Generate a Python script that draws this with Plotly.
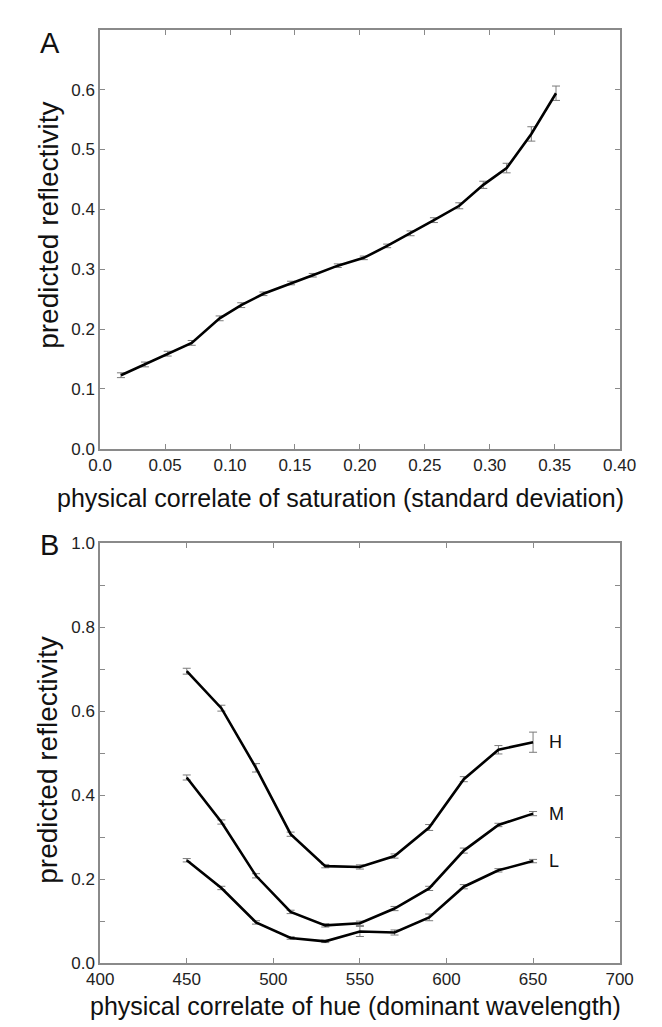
import plotly.graph_objects as go

# Panel A data
sat_x = [0.016, 0.0345, 0.052, 0.0705, 0.092, 0.1086, 0.1257, 0.147, 0.1637, 0.183,
         0.203, 0.221, 0.239, 0.257, 0.2765, 0.295, 0.313, 0.332, 0.351]
sat_y = [0.123, 0.141, 0.159, 0.177, 0.218, 0.240, 0.259, 0.277, 0.290, 0.306,
         0.319, 0.339, 0.360, 0.382, 0.406, 0.441, 0.469, 0.526, 0.594]
sat_err = [0.004, 0.004, 0.004, 0.004, 0.004, 0.004, 0.003, 0.003, 0.003, 0.003,
           0.003, 0.003, 0.004, 0.004, 0.005, 0.006, 0.008, 0.012, 0.012]

# Panel B data
hue_x = [450, 470, 490, 510, 530, 550, 570, 590, 610, 630, 650]
hue_H = [0.695, 0.607, 0.465, 0.307, 0.231, 0.229, 0.255, 0.323, 0.438, 0.508, 0.526]
hue_H_err = [0.007, 0.007, 0.010, 0.005, 0.004, 0.005, 0.005, 0.007, 0.006, 0.010, 0.024]
hue_M = [0.442, 0.336, 0.208, 0.122, 0.090, 0.095, 0.130, 0.178, 0.268, 0.329, 0.356]
hue_M_err = [0.006, 0.005, 0.005, 0.004, 0.004, 0.005, 0.005, 0.005, 0.006, 0.004, 0.005]
hue_L = [0.245, 0.179, 0.097, 0.060, 0.052, 0.0755, 0.073, 0.109, 0.182, 0.221, 0.243]
hue_L_err = [0.004, 0.004, 0.004, 0.003, 0.003, 0.012, 0.006, 0.008, 0.005, 0.004, 0.004]
series_labels = ["H", "M", "L"]

W, H = 662, 1027
FONT = "Liberation Sans, Arial, sans-serif"
AX = "#8a8a8a"
ERR = "#7a7a7a"

fig = go.Figure()

def add_series(x, y, e, xa, ya):
    fig.add_trace(go.Scatter(
        x=x, y=y, mode="lines", xaxis=xa, yaxis=ya,
        line=dict(color="black", width=2.6),
        error_y=dict(type="data", array=e, visible=True, color=ERR, thickness=1, width=4),
        showlegend=False))

add_series(sat_x, sat_y, sat_err, "x", "y")
add_series(hue_x, hue_H, hue_H_err, "x2", "y2")
add_series(hue_x, hue_M, hue_M_err, "x2", "y2")
add_series(hue_x, hue_L, hue_L_err, "x2", "y2")

def yd(top, bottom):
    return [1 - bottom / H, 1 - top / H]

xdom = [82 / W, 627 / W]
common = dict(showline=True, linecolor=AX, linewidth=1.5, mirror="ticks", ticks="inside",
              ticklen=5, tickcolor=AX, tickwidth=1, showgrid=False, zeroline=False,
              tickfont=dict(family=FONT, size=17, color="#222"))

a_xt = [0.0, 0.05, 0.10, 0.15, 0.20, 0.25, 0.30, 0.35, 0.40]
a_yt = [0.0, 0.1, 0.2, 0.3, 0.4, 0.5, 0.6]
b_xt = [400, 450, 500, 550, 600, 650, 700]
b_yt = [round(0.1 * i, 1) for i in range(11)]

fig.update_layout(
    width=W, height=H, margin=dict(l=0, r=0, t=0, b=0),
    paper_bgcolor="white", plot_bgcolor="white",
    xaxis=dict(domain=xdom, anchor="y", range=[0, 0.4], tickvals=a_xt,
               ticktext=["0.0"] + [f"{v:.2f}" for v in a_xt[1:]], **common),
    yaxis=dict(domain=yd(13, 440), anchor="x", range=[0, 0.7], tickvals=a_yt,
               ticktext=[f"{v:.1f}" for v in a_yt], **common),
    xaxis2=dict(domain=xdom, anchor="y2", range=[400, 700], tickvals=b_xt,
                ticktext=[str(v) for v in b_xt], **common),
    yaxis2=dict(domain=yd(536, 964), anchor="x2", range=[0, 1.0], tickvals=b_yt,
                ticktext=[f"{v:.1f}" if i % 2 == 0 else "" for i, v in enumerate(b_yt)], **common),
)

ann = []
def txt(x, y, s, size, angle=0, xanchor="center"):
    ann.append(dict(x=x / W, y=1 - y / H, xref="paper", yref="paper", text=s, showarrow=False,
                    textangle=angle, xanchor=xanchor, yanchor="middle",
                    font=dict(family=FONT, size=size, color="#111")))

txt(29, 26, "A", 29)
txt(29, 538, "B", 29)
txt(334, 490, "physical correlate of saturation (standard deviation)", 25)
txt(350, 1008, "physical correlate of hue (dominant wavelength)", 25)
txt(27, 212, "predicted reflectivity", 28, -90)
txt(27, 757, "predicted reflectivity", 28, -90)
fig.update_layout(annotations=ann)

for lab, yv in zip(series_labels, [hue_H[-1], hue_M[-1], hue_L[-1]]):
    fig.add_annotation(x=658, y=yv, xref="x2", yref="y2", text=lab, showarrow=False,
                       xanchor="left", yanchor="middle",
                       font=dict(family=FONT, size=18, color="#111"))

fig.write_html("out.html")
